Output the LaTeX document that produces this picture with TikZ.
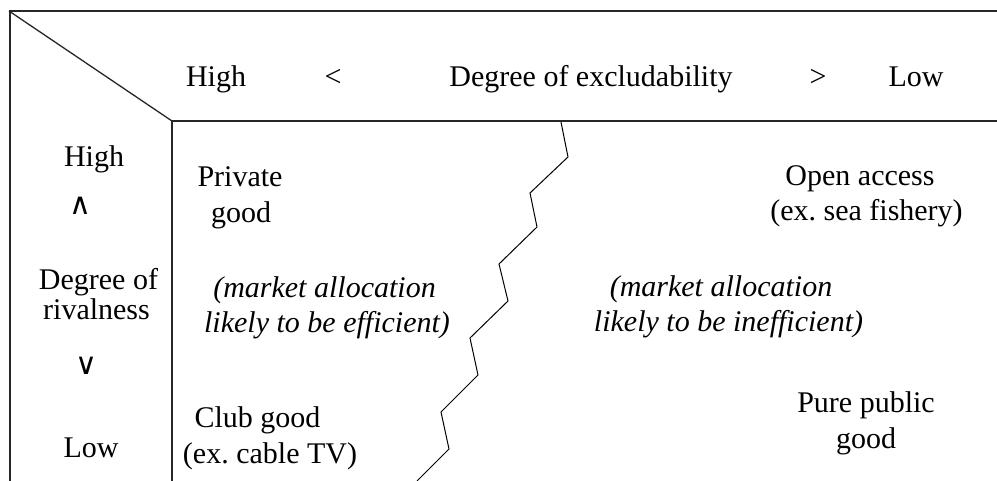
\documentclass[tikz,border=0pt]{standalone}
\usepackage{fontspec}
\setmainfont{Liberation Serif}
\newfontfamily\symfont{DejaVu Sans}
\frenchspacing
\begin{document}
\begin{tikzpicture}[x=1pt,y=-1pt,
  lbl/.style={anchor=base,inner sep=0pt,font=\fontsize{30}{35}\selectfont},
  ilbl/.style={lbl,font=\fontsize{30}{35}\selectfont\itshape},
  sym/.style={anchor=center,inner sep=0pt,font=\symfont\fontsize{30}{30}\selectfont},
  frame/.style={line width=1.3pt,draw=black!85},
  zig/.style={line width=1pt,draw=black}]
\useasboundingbox (0,0) rectangle (997,481);
% frame
\coordinate (tl) at (9,11);
\coordinate (tr) at (997,11);
\coordinate (bl) at (10,481);
\coordinate (corner) at (172,121);
\coordinate (hr) at (997,121);
\coordinate (vb) at (172,481);
\draw[frame] (tl) -- (tr);
\draw[frame] (10,11) -- (bl);
\draw[frame] (tl) -- (corner);
\draw[frame] (corner) -- (hr);
\draw[frame] (corner) -- (vb);
% zigzag divider
\draw[zig] (561,122) -- (568,157) -- (530,193) -- (537,227) -- (499,264)
  -- (508,301) -- (470,338) -- (478,375) -- (441,412) -- (449,449) -- (417,481);
% header
\node[lbl] (hhigh) at (216,87) {High};
\node[lbl] (hlt) at (333,87) {<};
\node[lbl] (hdeg) at (591,87) {Degree of excludability};
\node[lbl] (hgt) at (818,87) {>};
\node[lbl] (hlow) at (916,87) {Low};
% left column
\node[lbl] (vhigh) at (94,167) {High};
\node[sym] (vup) at (80,206) {∧};
\node[lbl] (vdeg1) at (98.5,290) {Degree of};
\node[lbl] (vdeg2) at (96.5,320) {rivalness};
\node[sym] (vdown) at (86,366) {∨};
\node[lbl] (vlow) at (91,457) {Low};
% cells
\node[lbl] (p1) at (240,187) {Private};
\node[lbl] (p2) at (241,223) {good};
\node[ilbl] (e1) at (324.5,298) {(market allocation};
\node[ilbl] (e2) at (327,333) {likely to be efficient)};
\node[lbl] (o1) at (860,186) {Open access};
\node[lbl] (o2) at (866.5,221) {(ex. sea fishery)};
\node[ilbl] (i1) at (721,297) {(market allocation};
\node[ilbl] (i2) at (728.5,332) {likely to be inefficient)};
\node[lbl] (c1) at (257.5,427) {Club good};
\node[lbl] (c2) at (270,463) {(ex. cable TV)};
\node[lbl] (u1) at (866,412) {Pure public};
\node[lbl] (u2) at (866,448) {good};
\end{tikzpicture}
\end{document}
